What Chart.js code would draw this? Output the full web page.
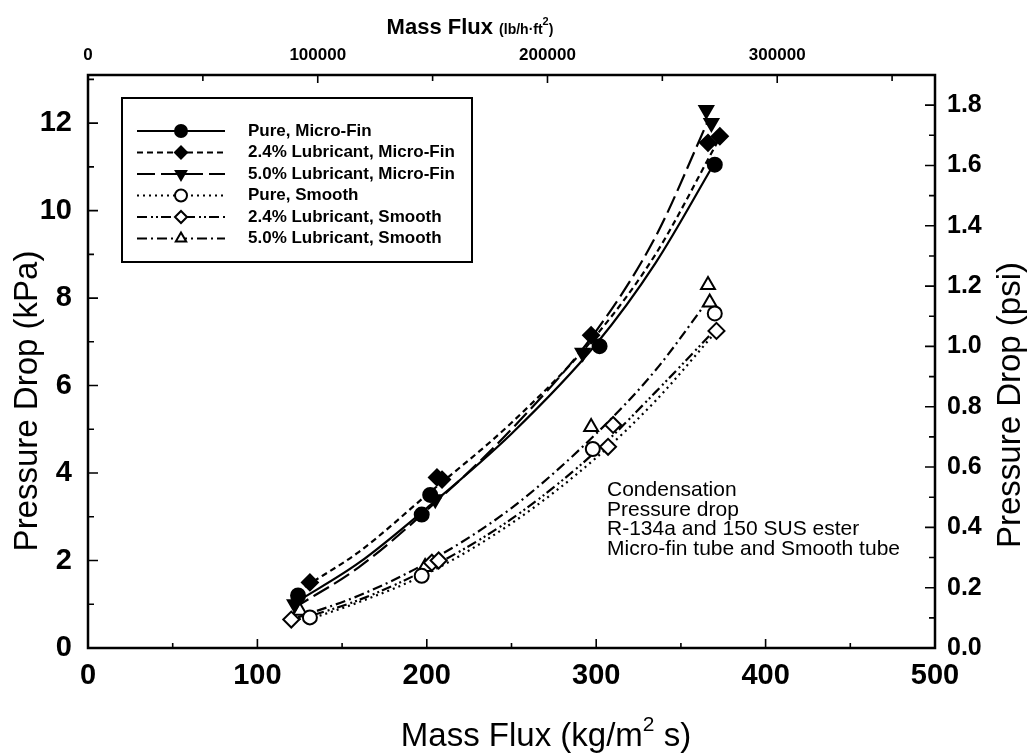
<!DOCTYPE html>
<html>
<head>
<meta charset="utf-8">
<title>Condensation pressure drop</title>
<script src="https://cdn.jsdelivr.net/npm/chart.js@4/dist/chart.umd.min.js"></script>
<style>
    html, body { margin: 0; padding: 0; background: #fff; }
    #wrap { width: 1033px; height: 755px; position: relative; }
</style>
</head>
<body>
<div id="wrap"><canvas id="dpChart"></canvas></div>
<script>
// legend order
var seriesNames = ["Pure, Micro-Fin", "2.4% Lubricant, Micro-Fin", "5.0% Lubricant, Micro-Fin",
                   "Pure, Smooth", "2.4% Lubricant, Smooth", "5.0% Lubricant, Smooth"];

// measured points: mass flux (kg/m2 s) / pressure drop (kPa)
var pureMfX  = [124, 197, 202, 302, 370];
var pureMfY  = [1.2, 3.05, 3.5, 6.9, 11.05];
var lub24MfX = [131, 206, 209, 297, 366, 373];
var lub24MfY = [1.5, 3.9, 3.85, 7.15, 11.55, 11.7];
var lub50MfX = [122, 205, 292, 365, 368];
var lub50MfY = [1.0, 3.4, 6.75, 12.3, 12.0];
var pureSmX  = [131, 197, 298, 370];
var pureSmY  = [0.7, 1.65, 4.55, 7.65];
var lub24SmX = [120, 203, 207, 307, 310, 371];
var lub24SmY = [0.65, 1.95, 2.0, 4.6, 5.1, 7.25];
var lub50SmX = [125, 199, 297, 366, 367];
var lub50SmY = [0.85, 1.85, 5.05, 8.3, 7.9];

// fitted curves
var pureMfFitX  = [123, 160, 200, 250, 300, 335, 370];
var pureMfFitY  = [1.05, 1.95, 3.2, 4.9, 6.95, 8.8, 11.1];
var lub24MfFitX = [128, 160, 200, 250, 300, 335, 372];
var lub24MfFitY = [1.4, 2.2, 3.5, 5.15, 7.15, 9.0, 11.6];
var lub50MfFitX = [121, 160, 200, 250, 300, 335, 366];
var lub50MfFitY = [0.9, 1.85, 3.15, 5.0, 7.25, 9.4, 12.05];
var pureSmFitX  = [130, 160, 200, 250, 300, 335, 370];
var pureSmFitY  = [0.65, 1.05, 1.7, 2.85, 4.35, 5.65, 7.2];
var lub24SmFitX = [120, 160, 200, 250, 300, 335, 372];
var lub24SmFitY = [0.6, 1.1, 1.8, 2.95, 4.5, 5.85, 7.35];
var lub50SmFitX = [124, 160, 200, 250, 300, 335, 367];
var lub50SmFitY = [0.7, 1.2, 1.95, 3.2, 4.9, 6.35, 8.0];

// tick labels
var siFluxTicks = [0, 100, 200, 300, 400, 500];
var lbFluxTicks = [0, 100000, 200000, 300000];
var kpaTicks = [0, 2, 4, 6, 8, 10, 12];
var psiTicks = [0, 0.2, 0.4, 0.6, 0.8, 1.0, 1.2, 1.4, 1.6, 1.8];

var noteLines = ["Condensation", "Pressure drop", "R-134a and 150 SUS ester", "Micro-fin tube and Smooth tube"];

var KPA_PER_PSI = 6.894757;
var SI_PER_LB = 0.0013562;   // kg/m2 s per lb/h ft2
var KPA_MAX = 13.1;

var FONT = "'Liberation Sans', Arial, sans-serif";

// per-series look (same order as seriesNames)
var markerStyle = ['circle', 'rectRot', 'triangle', 'circle', 'rectRot', 'triangle'];
var markerRot   = [0, 0, 180, 0, 0, 0];
var markerFill  = ['#000', '#000', '#000', '#fff', '#fff', '#fff'];
var lineDash    = [[], [6, 4], [18, 6], [2, 4], [10, 4, 2, 3, 2, 3], [10, 4, 2, 4]];

function zip(xs, ys) {
    return xs.map(function(x, i) { return { x: x, y: ys[i] }; });
}

var pointSets = [zip(pureMfX, pureMfY), zip(lub24MfX, lub24MfY), zip(lub50MfX, lub50MfY),
                 zip(pureSmX, pureSmY), zip(lub24SmX, lub24SmY), zip(lub50SmX, lub50SmY)];
var fitSets = [zip(pureMfFitX, pureMfFitY), zip(lub24MfFitX, lub24MfFitY), zip(lub50MfFitX, lub50MfFitY),
               zip(pureSmFitX, pureSmFitY), zip(lub24SmFitX, lub24SmFitY), zip(lub50SmFitX, lub50SmFitY)];

var datasets = [];
pointSets.forEach(function(pts, i) {
    datasets.push({
        label: seriesNames[i],
        data: pts,
        showLine: false,
        pointStyle: markerStyle[i],
        pointRotation: markerRot[i],
        pointRadius: markerStyle[i] == 'circle' ? 7 : 8,
        pointBackgroundColor: markerFill[i],
        pointBorderColor: '#000',
        pointBorderWidth: 2
    });
});
fitSets.forEach(function(pts, i) {
    datasets.push({
        label: seriesNames[i] + ' fit',
        data: pts,
        showLine: true,
        pointRadius: 0,
        borderColor: '#000',
        borderWidth: 2.2,
        borderDash: lineDash[i],
        cubicInterpolationMode: 'monotone'
    });
});

function fixTicks(list) {
    return function(scale) {
        scale.ticks = list.map(function(v) { return { value: v }; });
    };
}

// inward tick marks + frame
var frameTicks = {
    id: 'frameTicks',
    afterDatasetsDraw: function(chart) {
        var ctx = chart.ctx, a = chart.chartArea, s = chart.scales;
        var v, p, len;
        ctx.save();
        ctx.strokeStyle = '#000';
        ctx.lineWidth = 1.6;
        ctx.beginPath();
        for (v = 0; v <= 500; v += 50) {
            p = s.x.getPixelForValue(v);
            len = v % 100 == 0 ? 9 : 5;
            ctx.moveTo(p, a.bottom); ctx.lineTo(p, a.bottom - len);
        }
        for (v = 0; v <= 350000; v += 50000) {
            p = s.x2.getPixelForValue(v);
            len = v % 100000 == 0 ? 8 : 6;
            ctx.moveTo(p, a.top); ctx.lineTo(p, a.top + len);
        }
        for (v = 0; v <= 13; v += 1) {
            p = s.y.getPixelForValue(v);
            len = v % 2 == 0 ? 10 : 6;
            ctx.moveTo(a.left, p); ctx.lineTo(a.left + len, p);
        }
        for (v = 0; v <= 19; v += 1) {
            p = s.y2.getPixelForValue(v / 10);
            len = v % 2 == 0 ? 10 : 6;
            ctx.moveTo(a.right, p); ctx.lineTo(a.right - len, p);
        }
        ctx.stroke();
        ctx.lineWidth = 2.5;
        ctx.strokeRect(a.left, a.top, a.right - a.left, a.bottom - a.top);
        ctx.restore();
    }
};

function drawRuns(ctx, runs, cx, y) {
    var total = 0;
    runs.forEach(function(r) { ctx.font = r.font; r.w = ctx.measureText(r.text).width; total += r.w; });
    var x = cx - total / 2;
    runs.forEach(function(r) {
        ctx.font = r.font;
        ctx.fillText(r.text, x, y + (r.dy || 0));
        x += r.w;
    });
}

// legend box, axis titles, note
var decorations = {
    id: 'decorations',
    afterDraw: function(chart) {
        var ctx = chart.ctx;
        ctx.save();
        ctx.fillStyle = '#000';
        ctx.strokeStyle = '#000';

        // legend
        ctx.lineWidth = 2;
        ctx.strokeRect(122, 98, 350, 164);
        seriesNames.forEach(function(name, i) {
            var y = 131 + i * 21.5;
            ctx.lineWidth = 2.2;
            ctx.setLineDash(lineDash[i]);
            ctx.beginPath();
            ctx.moveTo(137, y); ctx.lineTo(225, y);
            ctx.stroke();
            ctx.setLineDash([]);
            ctx.fillStyle = markerFill[i];
            ctx.lineWidth = 2;
            Chart.helpers.drawPoint(ctx, {
                pointStyle: markerStyle[i], rotation: markerRot[i],
                radius: 6, borderWidth: 2
            }, 181, y);
            ctx.fillStyle = '#000';
            ctx.font = 'bold 17px ' + FONT;
            ctx.textBaseline = 'middle';
            ctx.textAlign = 'left';
            ctx.fillText(name, 248, y);
        });

        // top title
        ctx.textBaseline = 'alphabetic';
        ctx.textAlign = 'left';
        drawRuns(ctx, [
            { text: 'Mass Flux ', font: 'bold 22px ' + FONT },
            { text: '(lb/h\u00b7ft', font: 'bold 14px ' + FONT },
            { text: '2', font: 'bold 11px ' + FONT, dy: -9 },
            { text: ')', font: 'bold 14px ' + FONT }
        ], 470, 34);

        // bottom title
        drawRuns(ctx, [
            { text: 'Mass Flux (kg/m', font: '33px ' + FONT },
            { text: '2', font: '21px ' + FONT, dy: -15 },
            { text: ' s)', font: '33px ' + FONT }
        ], 546, 746);

        // side titles
        ctx.textAlign = 'center';
        ctx.textBaseline = 'middle';
        ctx.font = '33px ' + FONT;
        ctx.save();
        ctx.translate(28, 401);
        ctx.rotate(-Math.PI / 2);
        ctx.fillText('Pressure Drop (kPa)', 0, 0);
        ctx.restore();
        ctx.save();
        ctx.translate(1011, 405);
        ctx.rotate(-Math.PI / 2);
        ctx.fillText('Pressure Drop (psi)', 0, 0);
        ctx.restore();

        // note
        ctx.textAlign = 'left';
        ctx.textBaseline = 'alphabetic';
        ctx.font = '21px ' + FONT;
        noteLines.forEach(function(t, i) {
            ctx.fillText(t, 607, 496 + i * 19.5);
        });
        ctx.restore();
    }
};

var tickFont = function(size) {
    return { family: FONT, size: size, weight: 'bold' };
};

var ctx = document.getElementById('dpChart');
var dpChart = new Chart(ctx, {
    type: 'scatter',
    data: { datasets: datasets },
    options: {
        responsive: true,
        maintainAspectRatio: false,
        animation: false,
        layout: { padding: 0 },
        plugins: {
            legend: { display: false },
            tooltip: { enabled: false }
        },
        scales: {
            x: {
                type: 'linear', position: 'bottom', min: 0, max: 500,
                afterBuildTicks: fixTicks(siFluxTicks),
                afterFit: function(s) { s.height = 107; },
                grid: { display: false, drawTicks: false },
                border: { display: false },
                ticks: { color: '#000', font: tickFont(29), padding: 11, maxRotation: 0, autoSkip: false }
            },
            x2: {
                type: 'linear', position: 'top', min: 0, max: 500 / SI_PER_LB,
                afterBuildTicks: fixTicks(lbFluxTicks),
                afterFit: function(s) { s.height = 75; },
                grid: { display: false, drawTicks: false },
                border: { display: false },
                ticks: {
                    color: '#000', font: tickFont(17), padding: 9, maxRotation: 0, autoSkip: false,
                    callback: function(v) { return String(v); }
                }
            },
            y: {
                type: 'linear', position: 'left', min: 0, max: KPA_MAX,
                afterBuildTicks: fixTicks(kpaTicks),
                afterFit: function(s) { s.width = 88; },
                grid: { display: false, drawTicks: false },
                border: { display: false },
                ticks: { color: '#000', font: tickFont(29), padding: 16, autoSkip: false }
            },
            y2: {
                type: 'linear', position: 'right', min: 0, max: KPA_MAX / KPA_PER_PSI,
                afterBuildTicks: fixTicks(psiTicks),
                afterFit: function(s) { s.width = 98; },
                grid: { display: false, drawTicks: false },
                border: { display: false },
                ticks: {
                    color: '#000', font: tickFont(25), padding: 12, autoSkip: false,
                    callback: function(v) { return v.toFixed(1); }
                }
            }
        }
    },
    plugins: [frameTicks, decorations]
});
</script>
</body>
</html>
